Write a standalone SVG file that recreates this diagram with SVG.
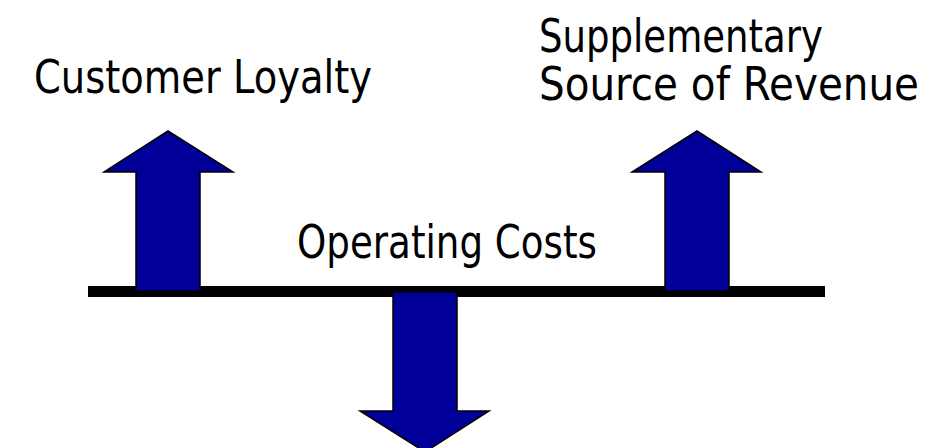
<svg xmlns="http://www.w3.org/2000/svg" width="941" height="448" viewBox="0 0 941 448">
<style>
.lbl{font-family:"DejaVu Sans","Verdana",sans-serif;font-size:46px;fill:#000}
.arr{fill:#000099;stroke:#000;stroke-width:1.5;stroke-linejoin:miter}
</style>
<rect x="0" y="0" width="941" height="448" fill="#fff"/>
<g id="connectors">
<rect id="bar" x="88" y="286" width="737" height="11" fill="#000"/>
</g>
<g id="arrow-loyalty">
<polygon class="arr" points="168,131 233,172 200,172 200,291 136,291 136,172 104,172"/>
</g>
<g id="arrow-revenue">
<polygon class="arr" points="697,131 761,172 729,172 729,291 665,291 665,172 632,172"/>
</g>
<g id="arrow-costs">
<polygon class="arr" points="393,292 457,292 457,411 489,411 425,452 360,411 393,411"/>
</g>
<g id="label-loyalty">
<text class="lbl" x="34" y="93" textLength="338" lengthAdjust="spacingAndGlyphs">Customer Loyalty</text>
</g>
<g id="label-revenue">
<text class="lbl" x="539" y="52" textLength="284" lengthAdjust="spacingAndGlyphs">Supplementary</text>
<text class="lbl" x="539" y="100" textLength="380" lengthAdjust="spacingAndGlyphs">Source of Revenue</text>
</g>
<g id="label-costs">
<text class="lbl" x="297" y="258" textLength="300" lengthAdjust="spacingAndGlyphs">Operating Costs</text>
</g>
</svg>
